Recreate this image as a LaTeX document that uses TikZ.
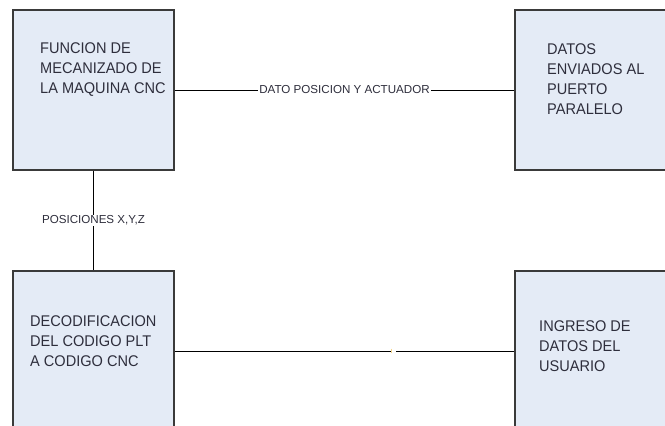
\documentclass[tikz,border=0pt]{standalone}
\usepackage{fontspec}
\setmainfont{Liberation Sans}
\newfontfamily\boxfont[FakeStretch=0.94]{Liberation Sans}
\definecolor{boxfill}{HTML}{E4EBF6}
\definecolor{boxline}{HTML}{3A3A3A}
\definecolor{txt}{HTML}{2E2E3C}
\definecolor{tick}{HTML}{F5D58A}
\begin{document}
\begin{tikzpicture}[x=1pt,y=-1pt,
  blk/.style={draw=boxline,fill=boxfill,line width=1.3pt,inner sep=0pt},
  btext/.style={anchor=north west,inner sep=0pt,align=left,text=txt,font=\boxfont\fontsize{15.5}{20}\selectfont},
  conn/.style={draw=black,line width=0.9pt},
  lbl/.style={fill=white,inner sep=1pt,text=txt,font=\fontsize{11.6}{13}\selectfont}]
\useasboundingbox (0,0) rectangle (665,426);
\node[blk,minimum width=161pt,minimum height=160pt] (b1) at (93.5,90) {};
\node[blk,minimum width=170pt,minimum height=160pt] (b2) at (600,90) {};
\node[blk,minimum width=161pt,minimum height=160pt] (b3) at (93.5,351) {};
\node[blk,minimum width=170pt,minimum height=160pt] (b4) at (600,351) {};
\node[btext] (t1) at (40,42) {FUNCION DE\\MECANIZADO DE\\LA MAQUINA CNC};
\node[btext] (t2) at (547,43.5) {DATOS\\ENVIADOS AL\\PUERTO\\PARALELO};
\node[btext] (t3) at (30,315) {DECODIFICACION\\DEL CODIGO PLT\\A CODIGO CNC};
\node[btext] (t4) at (539,320) {INGRESO DE\\DATOS DEL\\USUARIO};
\draw[conn] (b1.east) -- node[lbl] (l1) {DATO POSICION Y ACTUADOR} (b2.west);
\draw[conn] (b1.south) -- node[lbl] (l2) {POSICIONES X,Y,Z} (b3.north);
\draw[conn] (b3.east) -- node[pos=0.645,fill=white,inner sep=0pt,minimum width=4pt,minimum height=4pt] (l3) {} (b4.west);
\draw[tick,line width=0.9pt] (l3.north west) -- (l3.south west);
\end{tikzpicture}
\end{document}
